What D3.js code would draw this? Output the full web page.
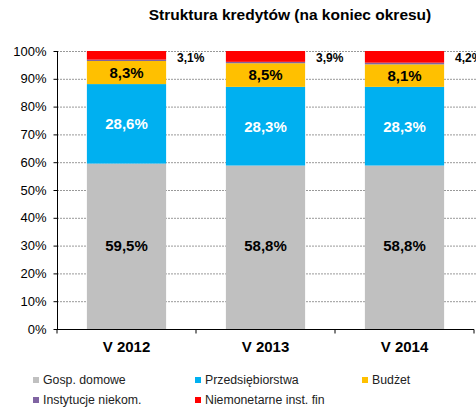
<!DOCTYPE html>
<html>
<head>
<meta charset="utf-8">
<script src="https://cdn.jsdelivr.net/npm/d3@7"></script>
<style>
  body { margin: 0; background: #fff; }
  svg { display: block; font-family: Arial, "Liberation Sans", sans-serif; }
</style>
</head>
<body>
<div id="chart"></div>
<script>
// ── Dane ─────────────────────────────────────────────────────────
const categories = ["V 2012", "V 2013", "V 2014"];
const seriesNames = ["Gosp. domowe", "Przedsiębiorstwa", "Budżet", "Instytucje niekom.", "Niemonetarne inst. fin"];
const gospDomowe = [59.5, 58.8, 58.8];
const przedsiebiorstwa = [28.6, 28.3, 28.3];
const budzet = [8.3, 8.5, 8.1];
const instytucje = [0.5, 0.5, 0.6];
const niemonetarne = [3.1, 3.9, 4.2];
const yTicks = [0, 10, 20, 30, 40, 50, 60, 70, 80, 90, 100];

const seriesValues = [gospDomowe, przedsiebiorstwa, budzet, instytucje, niemonetarne];
const colors = ["#C0C0C0", "#00B0F0", "#FFC000", "#8064A2", "#FF0000"];
const fmt = v => v.toFixed(1).replace(".", ",") + "%";

// ── Wymiary ──────────────────────────────────────────────────────
const W = 476, H = 411;
const m = {top: 51, left: 57, right: 2, bottom: 82};

const svg = d3.select("#chart").append("svg").attr("width", W).attr("height", H);

const x = d3.scaleBand().domain(categories).range([m.left, W - m.right]).paddingInner(0.43).paddingOuter(0.215);
const y = d3.scaleLinear().domain([0, 100]).range([H - m.bottom, m.top]);

// tytuł
svg.append("text")
  .attr("x", 290).attr("y", 20)
  .attr("text-anchor", "middle")
  .attr("font-size", 15.5).attr("font-weight", "bold")
  .text("Struktura kredytów (na koniec okresu)");

// siatka
svg.append("g").selectAll("line")
  .data(yTicks.filter(t => t > 0))
  .join("line")
  .attr("x1", m.left).attr("x2", W)
  .attr("y1", d => y(d) + 0.5).attr("y2", d => y(d) + 0.5)
  .attr("stroke", "#999").attr("stroke-dasharray", "2,1");

// słupki
const stackData = categories.map((c, i) => {
  const row = {cat: c};
  seriesNames.forEach((s, j) => row[s] = seriesValues[j][i]);
  return row;
});
const stacked = d3.stack().keys(seriesNames)(stackData);

svg.append("g").selectAll("g")
  .data(stacked)
  .join("g")
  .attr("fill", (d, i) => colors[i])
  .selectAll("rect")
  .data(d => d)
  .join("rect")
  .attr("x", d => x(d.data.cat))
  .attr("width", x.bandwidth())
  .attr("y", d => y(Math.min(100, d[1])))
  .attr("height", d => y(d[0]) - y(Math.min(100, d[1])));

// etykiety wewnątrz
const labelColors = ["#000", "#fff", "#000"];
stacked.slice(0, 3).forEach((s, i) => {
  svg.append("g").selectAll("text")
    .data(s)
    .join("text")
    .attr("x", d => x(d.data.cat) + x.bandwidth() / 2)
    .attr("y", d => i === 0 ? y(30) : y((d[0] + d[1]) / 2))
    .attr("dy", "0.36em")
    .attr("text-anchor", "middle")
    .attr("font-size", 15).attr("font-weight", "bold")
    .attr("fill", labelColors[i])
    .text(d => fmt(d[1] - d[0]));
});

// etykiety niemonetarne (na zewnątrz)
svg.append("g").selectAll("text")
  .data(stacked[4])
  .join("text")
  .attr("x", d => x(d.data.cat) + x.bandwidth() + 11)
  .attr("y", d => y(97.5))
  .attr("dy", "0.36em")
  .attr("font-size", 12).attr("font-weight", "bold")
  .text(d => fmt(d[1] - d[0]));

// oś Y
const yAxis = svg.append("g")
  .attr("transform", `translate(${m.left + 0.5},0)`)
  .call(d3.axisLeft(y).tickValues(yTicks).tickSize(4).tickFormat(d => d + "%"));
yAxis.select(".domain").attr("stroke", "#000").attr("d", `M0,${y(100)}V${y(0)}`);
yAxis.selectAll(".tick line").attr("stroke", "#000");
yAxis.selectAll(".tick text").attr("font-size", 13).attr("fill", "#000")
  .attr("font-family", "Arial, 'Liberation Sans', sans-serif").attr("x", -11);

// oś X
const xAxis = svg.append("g")
  .attr("transform", `translate(0,${y(0) + 0.5})`);
xAxis.append("line").attr("x1", m.left).attr("x2", W - m.right).attr("stroke", "#000");
const bounds = categories.map(c => x(c) - x.step() * x.paddingInner() / 2);
bounds.push(W - m.right);
xAxis.selectAll(".tk")
  .data(bounds)
  .join("line")
  .attr("x1", d => d).attr("x2", d => d)
  .attr("y1", 0).attr("y2", 4)
  .attr("stroke", "#000");
xAxis.selectAll(".lbl")
  .data(categories)
  .join("text")
  .attr("x", d => x(d) + x.bandwidth() / 2)
  .attr("y", 22)
  .attr("text-anchor", "middle")
  .attr("font-size", 15).attr("font-weight", "bold")
  .text(d => d);

// legenda
const legX = [33, 195, 362];
const legend = svg.append("g").selectAll("g")
  .data(seriesNames)
  .join("g")
  .attr("transform", (d, i) => `translate(${legX[i % 3]},${i < 3 ? 380 : 400})`);
legend.append("rect")
  .attr("x", 0).attr("y", -3).attr("width", 6).attr("height", 6)
  .attr("fill", (d, i) => colors[i]);
legend.append("text")
  .attr("x", 10).attr("y", 0).attr("dy", "0.36em")
  .attr("font-size", 12.3).attr("fill", "#222")
  .text(d => d);
</script>
</body>
</html>
